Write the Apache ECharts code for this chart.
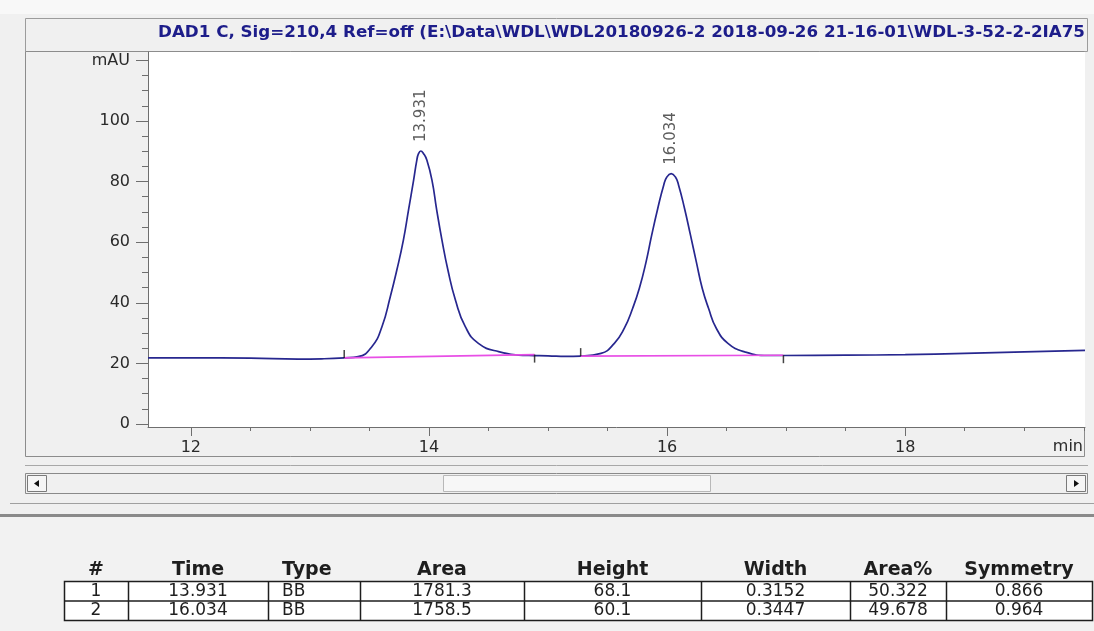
<!DOCTYPE html>
<html>
<head>
<meta charset="utf-8">
<script src="https://cdn.jsdelivr.net/npm/echarts@6/dist/echarts.min.js"></script>
<style>
  html, body { margin: 0; padding: 0; background: #f0f0f0; }
  #chart { width: 1094px; height: 631px; }
</style>
</head>
<body>
<div id="chart"></div>
<script>
// ---- Signal trace: DAD1 C, 210 nm (time in min, absorbance in mAU) ----
const signalTime = [
  11.64, 12.0, 12.5, 12.9, 13.1, 13.288, 13.405, 13.52, 13.605, 13.675,
  13.73, 13.785, 13.828, 13.871, 13.898, 13.912, 13.931, 13.955, 13.982, 14.025,
  14.065, 14.109, 14.159, 14.222, 14.305, 14.415, 14.585, 14.84, 15.0, 15.15,
  15.274, 15.445, 15.557, 15.641, 15.711, 15.767, 15.824, 15.871, 15.922, 15.972,
  15.998, 16.034, 16.07, 16.096, 16.146, 16.196, 16.245, 16.295, 16.348, 16.413,
  16.511, 16.651, 16.848, 16.977, 17.5, 18.0, 18.5, 19.0, 19.51
];
const signalMAU = [
  21.8, 21.8, 21.7, 21.4, 21.5, 21.8, 22.2, 25.5, 32.1, 42.0,
  50.8, 60.7, 70.6, 80.5, 87.1, 89.2, 90.1, 89.2, 87.1, 80.5,
  70.6, 60.7, 50.8, 40.9, 32.1, 26.6, 23.9, 22.6, 22.5, 22.3,
  22.4, 23.3, 26.6, 31.6, 38.2, 44.8, 53.6, 62.4, 71.2, 78.9,
  81.5, 82.6, 81.5, 78.9, 71.2, 62.4, 53.6, 44.8, 38.2, 31.6,
  26.6, 23.8, 22.6, 22.6, 22.7, 22.9, 23.3, 23.8, 24.3
];

// ---- Integration results ----
const peakNumber   = [1, 2];
const peakTime     = [13.931, 16.034];
const peakType     = ['BB', 'BB'];
const peakArea     = [1781.3, 1758.5];
const peakHeight   = [68.1, 60.1];
const peakWidth    = [0.3152, 0.3447];
const peakAreaPct  = [50.322, 49.678];
const peakSymmetry = [0.866, 0.964];
const apexMAU      = [90.1, 82.6];

// Integration baseline end points
const peakStartTime = [13.288, 15.274];
const peakStartMAU  = [21.8, 22.4];
const peakEndTime   = [14.887, 16.977];
const peakEndMAU    = [22.9, 22.7];

// ---- Axis ticks ----
const timeMajorTicks = [12, 14, 16, 18];
const timeMinorTicks = [12.5, 13, 13.5, 14.5, 15, 15.5, 16.5, 17, 17.5, 18.5, 19, 19.5];
const mauMajorTicks  = [0, 20, 40, 60, 80, 100, 120];
const mauMinorTicks  = [5, 10, 15, 25, 30, 35, 45, 50, 55, 65, 70, 75, 85, 90, 95, 105, 110, 115];

const tableHeaders = ['#', 'Time', 'Type', 'Area', 'Height', 'Width', 'Area%', 'Symmetry'];
const signalTitle = 'DAD1 C, Sig=210,4 Ref=off (E:\\Data\\WDL\\WDL20180926-2 2018-09-26 21-16-01\\WDL-3-52-2-2IA75';

const X_MIN = 11.64, X_MAX = 19.51, Y_MIN = -1, Y_MAX = 122.77;
const FONT = 'DejaVu Sans';
const axisGrey = '#6e6e6e';
const axisText = { fontFamily: FONT, fontSize: 16, color: '#2a2a2a' };

// ---- Window frame, scroll bar and results table ----
const graphics = [];
function rect(x, y, w, h, fill, stroke, lw) {
  graphics.push({ type: 'rect', z: -20, silent: true,
    shape: { x: x, y: y, width: w, height: h },
    style: { fill: fill, stroke: stroke || null, lineWidth: lw || 1 } });
}
function hline(x1, x2, y, color, lw) {
  graphics.push({ type: 'line', z: -15, silent: true,
    shape: { x1: x1, y1: y, x2: x2, y2: y },
    style: { stroke: color, lineWidth: lw || 1 } });
}
function text(str, x, y, font, fill, align) {
  graphics.push({ type: 'text', z: 5, silent: true, x: x, y: y,
    style: { text: str, font: font, fill: fill, align: align || 'center', verticalAlign: 'middle' } });
}

rect(0, 0, 1094, 14, '#f8f8f8');
// title bar
rect(25.5, 18.5, 1062, 33, '#f0f0f0', '#9c9c9c');
// chart panel and white plot area
rect(25.5, 51.5, 1059, 405, '#f0f0f0', '#8c8c8c');
rect(148, 52, 937, 375, '#ffffff');

// title text, stretched to the width of the bar
(function () {
  const titleFont = 'bold 16px "DejaVu Sans"';
  const ctx = document.createElement('canvas').getContext('2d');
  ctx.font = titleFont;
  const w = ctx.measureText(signalTitle).width;
  const sx = 927 / w;
  graphics.push({ type: 'text', z: 5, silent: true, x: 158, y: 33, scaleX: sx,
    style: { text: signalTitle, font: titleFont, fill: '#1d1d8a', align: 'left', verticalAlign: 'middle' } });
})();

// scroll bar
hline(25, 1088, 465.5, '#a8a8a8');
rect(25.5, 473.5, 1062, 20, '#f0f0f0', '#8a8a8a');
rect(27.5, 475.5, 19, 16, '#f5f5f5', '#7a7a7a');
graphics.push({ type: 'polygon', z: 5, silent: true, shape: { points: [[39, 480], [39, 487], [34, 483.5]] }, style: { fill: '#111' } });
rect(443.5, 475.5, 267, 16, '#f7f7f7', '#b8b8b8');
rect(1066.5, 475.5, 19, 16, '#f5f5f5', '#7a7a7a');
graphics.push({ type: 'polygon', z: 5, silent: true, shape: { points: [[1074, 480], [1074, 487], [1079, 483.5]] }, style: { fill: '#111' } });
hline(10, 1094, 503.5, '#a0a0a0');
rect(0, 514, 1094, 3, '#8a8a8a');
rect(0, 517, 1094, 114, '#f2f2f2');

// results table
const colEdges = [64, 128, 268, 360, 524, 701, 850, 946, 1092];
const headerY = 570, rowTop = 581, rowH = 19.5;
tableHeaders.forEach(function (h, i) {
  const cx = (colEdges[i] + colEdges[i + 1]) / 2;
  text(h, i === 2 ? colEdges[i] + 14 : cx, headerY, 'bold 19px "DejaVu Sans"', '#1e1e1e', i === 2 ? 'left' : 'center');
});
rect(colEdges[0] + 0.5, rowTop + 0.5, colEdges[colEdges.length - 1] - colEdges[0], rowH * peakNumber.length, '#ffffff', '#1e1e1e', 1.5);
for (let r = 0; r < peakNumber.length; r++) {
  const y = rowTop + rowH * r;
  if (r > 0) hline(colEdges[0], colEdges[colEdges.length - 1], y + 0.5, '#1e1e1e', 1.5);
  const cells = [
    String(peakNumber[r]), peakTime[r].toFixed(3), peakType[r], peakArea[r].toFixed(1),
    peakHeight[r].toFixed(1), peakWidth[r].toFixed(4), peakAreaPct[r].toFixed(3), peakSymmetry[r].toFixed(3)
  ];
  cells.forEach(function (c, i) {
    const cx = (colEdges[i] + colEdges[i + 1]) / 2;
    text(c, i === 2 ? colEdges[i] + 14 : cx, y + rowH / 2 + 0.5, '17px "DejaVu Sans"', '#1e1e1e', i === 2 ? 'left' : 'center');
  });
}
for (let i = 1; i < colEdges.length - 1; i++) {
  graphics.push({ type: 'line', z: -14, silent: true,
    shape: { x1: colEdges[i] + 0.5, y1: rowTop, x2: colEdges[i] + 0.5, y2: rowTop + rowH * peakNumber.length },
    style: { stroke: '#1e1e1e', lineWidth: 1.5 } });
}

// ---- Series ----
const trace = signalTime.map(function (t, i) { return [t, signalMAU[i]]; });
const baselineSeries = peakStartTime.map(function (t, i) {
  return {
    type: 'line', z: 4, silent: true, showSymbol: false,
    data: [[t, peakStartMAU[i]], [peakEndTime[i], peakEndMAU[i]]],
    lineStyle: { color: '#e84fe6', width: 1.6 }
  };
});

const option = {
  backgroundColor: '#f0f0f0',
  animation: false,
  graphic: graphics,
  grid: { left: 148, right: 9, top: 52, bottom: 204, containLabel: false },
  xAxis: [
    {
      type: 'value', min: X_MIN, max: X_MAX, position: 'bottom',
      axisLine: { show: true, onZero: false, lineStyle: { color: axisGrey, width: 1 } },
      axisTick: { show: true, customValues: timeMajorTicks, length: 9, lineStyle: { color: axisGrey } },
      axisLabel: Object.assign({ customValues: timeMajorTicks, margin: 13 }, axisText),
      splitLine: { show: false },
      name: 'min', nameLocation: 'end', nameGap: 0,
      nameTextStyle: Object.assign({ align: 'right', verticalAlign: 'top', padding: [12, 2, 0, 0] }, axisText)
    },
    {
      type: 'value', min: X_MIN, max: X_MAX, position: 'bottom',
      axisLine: { show: false, onZero: false },
      axisTick: { show: true, customValues: timeMinorTicks, length: 4, lineStyle: { color: axisGrey } },
      axisLabel: { show: false }, splitLine: { show: false }
    }
  ],
  yAxis: [
    {
      type: 'value', min: Y_MIN, max: Y_MAX, position: 'left',
      axisLine: { show: true, onZero: false, lineStyle: { color: axisGrey, width: 1 } },
      axisTick: { show: true, customValues: mauMajorTicks, length: 12, lineStyle: { color: axisGrey } },
      axisLabel: Object.assign({
        customValues: mauMajorTicks, margin: 18,
        formatter: function (v) { return v === 120 ? 'mAU' : String(v); }
      }, axisText),
      splitLine: { show: false }
    },
    {
      type: 'value', min: Y_MIN, max: Y_MAX, position: 'left',
      axisLine: { show: false, onZero: false },
      axisTick: { show: true, customValues: mauMinorTicks, length: 6, lineStyle: { color: axisGrey } },
      axisLabel: { show: false }, splitLine: { show: false }
    }
  ],
  series: [
    {
      type: 'line', z: 3, silent: true, showSymbol: false,
      smooth: 0.5,
      data: trace,
      lineStyle: { color: '#27278f', width: 1.7 }
    }
  ].concat(baselineSeries).concat([
    {
      type: 'scatter', z: 5, silent: true, symbol: 'rect', symbolSize: [1.5, 8], symbolOffset: [0, -4],
      itemStyle: { color: '#151515' },
      data: peakStartTime.map(function (t, i) { return [t, peakStartMAU[i]]; })
    },
    {
      type: 'scatter', z: 5, silent: true, symbol: 'rect', symbolSize: [1.5, 8], symbolOffset: [0, 4],
      itemStyle: { color: '#151515' },
      data: peakEndTime.map(function (t, i) { return [t, peakEndMAU[i]]; })
    },
    {
      type: 'scatter', z: 6, silent: true, symbolSize: 0,
      data: peakTime.map(function (t, i) { return [t, apexMAU[i]]; }),
      label: {
        show: true, position: 'top', distance: 9, rotate: 90,
        align: 'left', verticalAlign: 'middle',
        fontFamily: FONT, fontSize: 15, color: '#333',
        formatter: function (p) { return p.value[0].toFixed(3); }
      }
    }
  ])
};

const chart = echarts.init(document.getElementById('chart'), null, { renderer: 'canvas', width: 1094, height: 631 });
chart.setOption(option);
</script>
</body>
</html>
